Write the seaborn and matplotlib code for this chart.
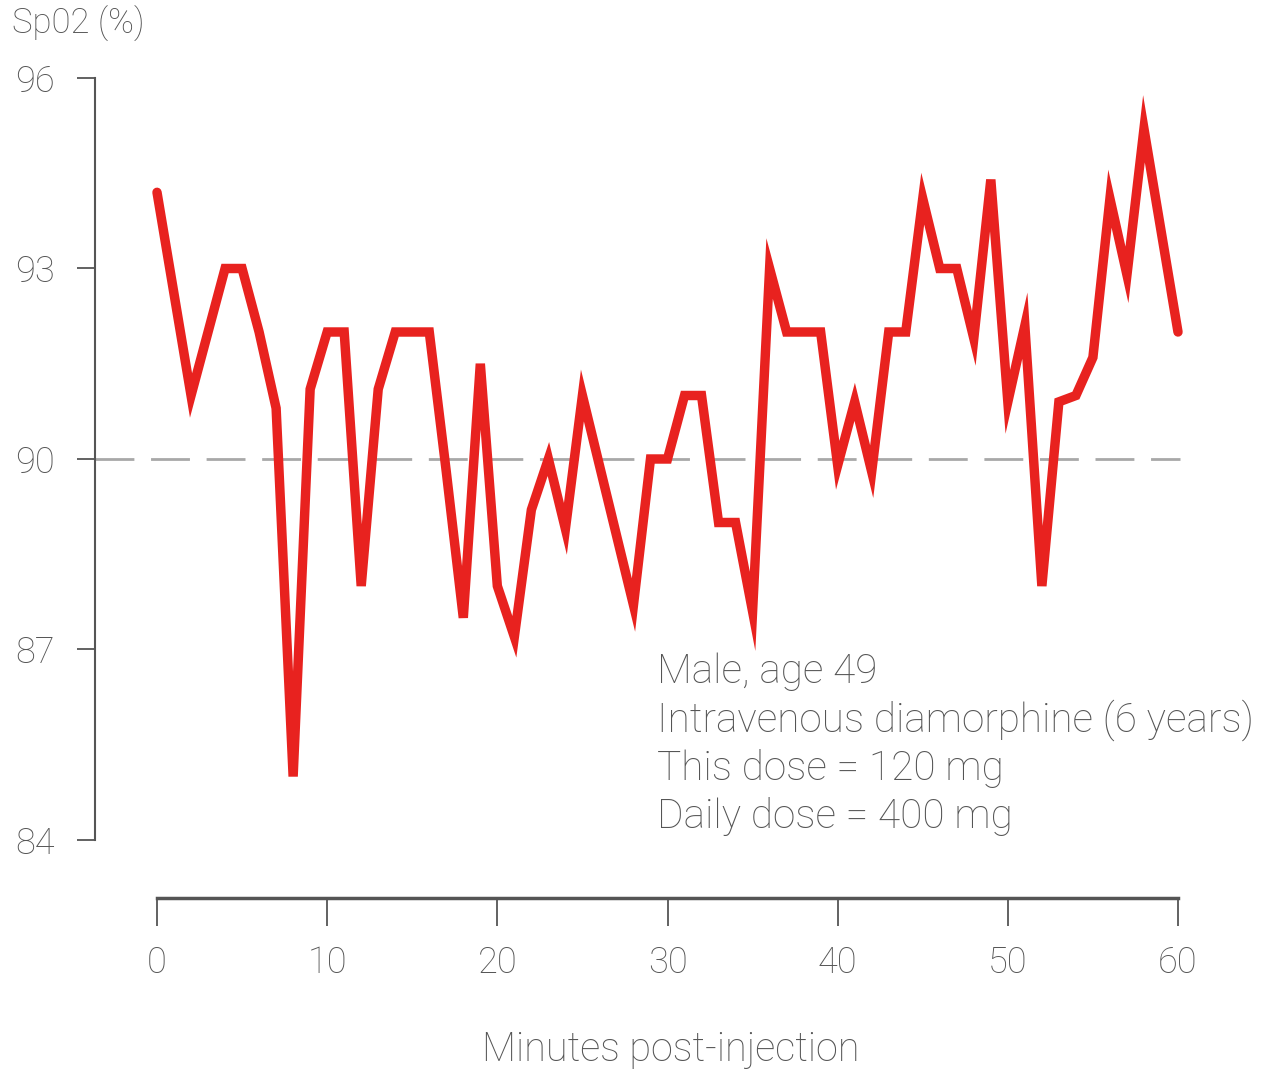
import matplotlib
matplotlib.use("Agg")
import matplotlib.pyplot as plt
import seaborn as sns
import pandas as pd

minutes = list(range(0, 61))
spo2 = [94.2, 92.6, 91.0, 92.0, 93.0, 93.0, 92.0, 90.8, 85.0, 91.1,
        92.0, 92.0, 88.0, 91.1, 92.0, 92.0, 92.0, 89.8, 87.5, 91.5,
        88.0, 87.2, 89.2, 90.0, 88.9, 91.0, 89.9, 88.8, 87.7, 90.0,
        90.0, 91.0, 91.0, 89.0, 89.0, 87.6, 93.0, 92.0, 92.0, 92.0,
        89.9, 90.9, 89.8, 92.0, 92.0, 94.1, 93.0, 93.0, 91.9, 94.4,
        90.9, 92.1, 88.0, 90.9, 91.0, 91.6, 94.1, 92.9, 95.2, 93.6,
        92.0]
y_ticks = [84, 87, 90, 93, 96]
x_ticks = [0, 10, 20, 30, 40, 50, 60]
threshold = 90
y_label = "Sp02 (%)"
x_label = "Minutes post-injection"
note_lines = ["Male, age 49", "Intravenous diamorphine (6 years)",
              "This dose = 120 mg", "Daily dose = 400 mg"]

df = pd.DataFrame({"minute": minutes, "spo2": spo2})

sns.set_theme(style="white")
plt.rcParams['font.family'] = ['Roboto', 'DejaVu Sans']
plt.rcParams['font.weight'] = 'light'

W, H = 1266, 1071
fig = plt.figure(figsize=(W / 100, H / 100), dpi=100)
left_px, right_px, top_px, bottom_px = 95, 1185, 78, 898
ax = fig.add_axes([left_px / W, 1 - bottom_px / H, (right_px - left_px) / W, (bottom_px - top_px) / H])

px_per_min = (1178 - 157) / 60.0
px_per_unit = (840 - 78) / 12.0
ax.set_xlim(-(157 - left_px) / px_per_min, (right_px - 157) / px_per_min)
ax.set_ylim(84 - (bottom_px - 840) / px_per_unit, 96)

text_col = "#555555"
spine_col = "#555555"

ax.axhline(threshold, xmin=0.0, xmax=(1180 - left_px) / (right_px - left_px),
           color="#a8a8a8", lw=2.0, dashes=(14, 6), zorder=1)

sns.lineplot(data=df, x="minute", y="spo2", ax=ax, color="#e8221f", lw=6.8,
             solid_joinstyle="miter", zorder=3)

for s in ["top", "right"]:
    ax.spines[s].set_visible(False)
ax.spines["left"].set_bounds(84, 96)
ax.spines["bottom"].set_bounds(0, 60)
ax.spines["left"].set_color(spine_col)
ax.spines["left"].set_linewidth(1.5)
ax.spines["bottom"].set_color(spine_col)
ax.spines["bottom"].set_linewidth(2.5)

ax.set_yticks(y_ticks)
ax.set_yticklabels([str(t) for t in y_ticks], fontweight="light")
ax.set_xticks(x_ticks)
ax.set_xticklabels([str(t) for t in x_ticks], fontweight="light")
ax.tick_params(axis="y", direction="out", length=13, width=1.3, color=spine_col,
               labelsize=26, labelcolor=text_col, pad=16, left=True)
ax.tick_params(axis="x", direction="out", length=20, width=1.3, color=spine_col,
               labelsize=26, labelcolor=text_col, pad=14, bottom=True)
ax.set_xlabel("")
ax.set_ylabel("")

fig.text(12 / W, 1 - 24 / H, y_label, fontsize=25, color=text_col, ha="left",
         va="center", fontweight="light")
fig.text(671 / W, 1 - 1050 / H, x_label, fontsize=28.5, color=text_col, ha="center",
         va="center", fontweight="light")

centers = [672, 720, 768, 817]
for line, cy in zip(note_lines, centers):
    fig.text(657 / W, 1 - cy / H, line, fontsize=29.2, color=text_col, ha="left",
             va="center", fontweight="light")

fig.savefig("out.png", dpi=100)
